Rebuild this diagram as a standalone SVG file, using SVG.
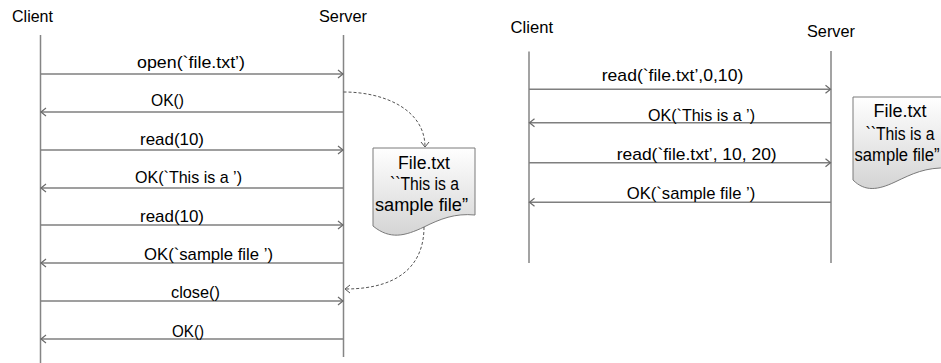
<svg xmlns="http://www.w3.org/2000/svg" width="941" height="363" viewBox="0 0 941 363">
  <style>
    text { font-family: "Liberation Sans", Arial, sans-serif; fill: #000; }
    .head { font-size: 16.5px; }
    .lbl { font-size: 17px; text-anchor: middle; }
    .doc-txt { font-size: 17.5px; text-anchor: middle; }
    .life { stroke: #858585; stroke-width: 1.5; fill: none; }
    .msg { stroke: #7f7f7f; stroke-width: 1.4; fill: none; marker-end: url(#open-arrow); }
    .flow { stroke: #555; stroke-width: 1; stroke-dasharray: 3 2; fill: none; marker-end: url(#open-arrow-thin); }
    .doc { fill: url(#docFill); stroke: #7a7a7a; stroke-width: 1; }
  </style>
  <defs>
    <marker id="open-arrow" markerUnits="userSpaceOnUse" markerWidth="12" markerHeight="12" viewBox="-8 -6 10 12" refX="0" refY="0" orient="auto" overflow="visible">
      <path d="M-5,-4 L0,0 L-5,4" fill="none" stroke="#6a6a6a" stroke-width="1.2"/>
    </marker>
    <marker id="open-arrow-thin" markerUnits="userSpaceOnUse" markerWidth="12" markerHeight="12" viewBox="-8 -6 10 12" refX="0" refY="0" orient="auto" overflow="visible">
      <path d="M-5,-4 L0,0 L-5,4" fill="none" stroke="#555" stroke-width="1"/>
    </marker>
    <linearGradient id="docFill" x1="0" y1="0" x2="0" y2="1">
      <stop offset="0" stop-color="#ffffff"/>
      <stop offset="1" stop-color="#d4d4d4"/>
    </linearGradient>
  </defs>

  <!-- Stateful protocol: open / read / close -->
  <g id="left-client">
    <text class="head" x="12" y="22" textLength="41" lengthAdjust="spacingAndGlyphs">Client</text>
    <line class="life" x1="40.5" y1="35" x2="40.5" y2="363"/>
  </g>
  <g id="left-server">
    <text class="head" x="319" y="22" textLength="48" lengthAdjust="spacingAndGlyphs">Server</text>
    <line class="life" x1="343.5" y1="35" x2="343.5" y2="357"/>
  </g>
  <g id="left-file">
    <path class="doc" d="M373,148 H475 V215 C455,213 440,219 424,227 C405,236 390,240 373,226 Z"/>
    <text class="doc-txt" x="424" y="169" textLength="52" lengthAdjust="spacingAndGlyphs">File.txt</text>
    <text class="doc-txt" x="424.5" y="190" textLength="69" lengthAdjust="spacingAndGlyphs">``This is a</text>
    <text class="doc-txt" x="421.5" y="211" textLength="93" lengthAdjust="spacingAndGlyphs">sample file”</text>
  </g>
  <g id="left-connectors">
    <line class="msg" x1="40.5" y1="74" x2="343" y2="74"/>
    <line class="msg" x1="343.5" y1="112" x2="41" y2="112"/>
    <line class="msg" x1="40.5" y1="150" x2="343" y2="150"/>
    <line class="msg" x1="343.5" y1="188" x2="41" y2="188"/>
    <line class="msg" x1="40.5" y1="225" x2="343" y2="225"/>
    <line class="msg" x1="343.5" y1="263" x2="41" y2="263"/>
    <line class="msg" x1="40.5" y1="301" x2="343" y2="301"/>
    <line class="msg" x1="343.5" y1="339" x2="41" y2="339"/>
    <path class="flow" d="M343.5,92 C385,92 425,110 425,147"/>
    <path class="flow" d="M424,227 C424,260 405,289 345,289"/>
  </g>
  <g id="left-labels">
    <text class="lbl" x="191" y="68" textLength="108" lengthAdjust="spacingAndGlyphs">open(`file.txt’)</text>
    <text class="lbl" x="167.5" y="106" textLength="33" lengthAdjust="spacingAndGlyphs">OK()</text>
    <text class="lbl" x="172" y="145" textLength="64" lengthAdjust="spacingAndGlyphs">read(10)</text>
    <text class="lbl" x="188.5" y="183" textLength="107" lengthAdjust="spacingAndGlyphs">OK(`This is a ’)</text>
    <text class="lbl" x="172" y="221.5" textLength="64" lengthAdjust="spacingAndGlyphs">read(10)</text>
    <text class="lbl" x="208.5" y="259.5" textLength="129" lengthAdjust="spacingAndGlyphs">OK(`sample file ’)</text>
    <text class="lbl" x="195.5" y="298" textLength="49" lengthAdjust="spacingAndGlyphs">close()</text>
    <text class="lbl" x="188" y="336.5" textLength="32" lengthAdjust="spacingAndGlyphs">OK()</text>
  </g>

  <!-- Stateless protocol: read with offsets -->
  <g id="right-client">
    <text class="head" x="510.5" y="33" textLength="42.5" lengthAdjust="spacingAndGlyphs">Client</text>
    <line class="life" x1="529" y1="51.5" x2="529" y2="263"/>
  </g>
  <g id="right-server">
    <text class="head" x="807" y="37" textLength="48" lengthAdjust="spacingAndGlyphs">Server</text>
    <line class="life" x1="831" y1="51" x2="831" y2="263"/>
  </g>
  <g id="right-file">
    <path class="doc" d="M853,97 H949 V168 C925,167 912,174 895,182 C878,190 865,192 853,180 Z"/>
    <text class="doc-txt" x="900" y="117" textLength="53" lengthAdjust="spacingAndGlyphs">File.txt</text>
    <text class="doc-txt" x="900" y="140" textLength="69" lengthAdjust="spacingAndGlyphs">``This is a</text>
    <text class="doc-txt" x="897" y="161" textLength="85" lengthAdjust="spacingAndGlyphs">sample file”</text>
  </g>
  <g id="right-connectors">
    <line class="msg" x1="529" y1="89.3" x2="830.5" y2="89.3"/>
    <line class="msg" x1="831" y1="122.7" x2="529.5" y2="122.7"/>
    <line class="msg" x1="529" y1="162.7" x2="830.5" y2="162.7"/>
    <line class="msg" x1="831" y1="202.3" x2="529.5" y2="202.3"/>
  </g>
  <g id="right-labels">
    <text class="lbl" x="672.5" y="81" textLength="141.5" lengthAdjust="spacingAndGlyphs">read(`file.txt’,0,10)</text>
    <text class="lbl" x="701.5" y="121" textLength="107" lengthAdjust="spacingAndGlyphs">OK(`This is a ’)</text>
    <text class="lbl" x="696.7" y="160" textLength="160" lengthAdjust="spacingAndGlyphs">read(`file.txt’, 10, 20)</text>
    <text class="lbl" x="691" y="199" textLength="128.5" lengthAdjust="spacingAndGlyphs">OK(`sample file ’)</text>
  </g>
</svg>
